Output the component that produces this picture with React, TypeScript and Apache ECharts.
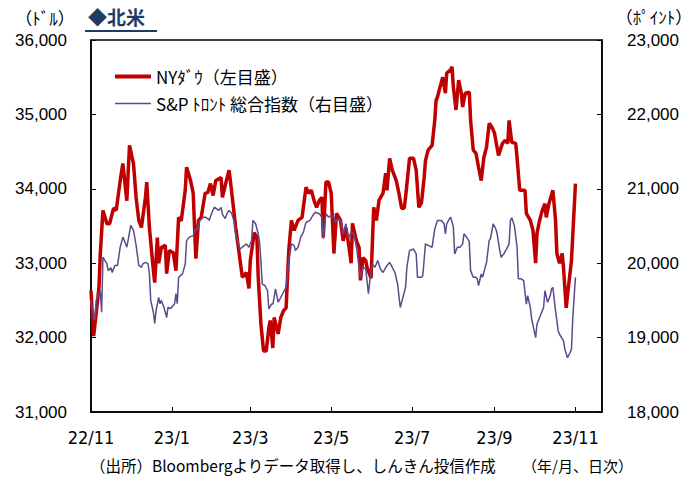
import React, { useEffect, useRef } from "react";
import * as echarts from "echarts";

const dowDates = [
  "2022-11-01","2022-11-03","2022-11-07","2022-11-08","2022-11-10","2022-11-13","2022-11-15","2022-11-18","2022-11-20","2022-11-23",
  "2022-11-25","2022-11-28","2022-11-30","2022-12-03","2022-12-05","2022-12-07","2022-12-09","2022-12-12","2022-12-13","2022-12-15",
  "2022-12-18","2022-12-19","2022-12-21","2022-12-22","2022-12-24","2022-12-27","2022-12-28","2022-12-30","2023-01-02","2023-01-04",
  "2023-01-06","2023-01-08","2023-01-11","2023-01-12","2023-01-15","2023-01-17","2023-01-19","2023-01-21","2023-01-23","2023-01-26",
  "2023-01-28","2023-01-30","2023-02-01","2023-02-03","2023-02-07","2023-02-08","2023-02-11","2023-02-13","2023-02-14","2023-02-16",
  "2023-02-18","2023-02-21","2023-02-23","2023-02-26","2023-02-28","2023-03-01","2023-03-04","2023-03-06","2023-03-07","2023-03-09",
  "2023-03-11","2023-03-13","2023-03-15","2023-03-16","2023-03-18","2023-03-19","2023-03-22","2023-03-24","2023-03-26","2023-03-28",
  "2023-03-30","2023-04-01","2023-04-03","2023-04-06","2023-04-09","2023-04-12","2023-04-14","2023-04-16","2023-04-18","2023-04-20",
  "2023-04-22","2023-04-24","2023-04-25","2023-04-27","2023-04-29","2023-05-01","2023-05-03","2023-05-05","2023-05-08","2023-05-10",
  "2023-05-12","2023-05-14","2023-05-16","2023-05-17","2023-05-20","2023-05-22","2023-05-23","2023-05-25","2023-05-27","2023-05-28",
  "2023-05-31","2023-06-02","2023-06-03","2023-06-04","2023-06-06","2023-06-09","2023-06-11","2023-06-12","2023-06-14","2023-06-16",
  "2023-06-19","2023-06-21","2023-06-23","2023-06-25","2023-06-26","2023-06-29","2023-07-02","2023-07-04","2023-07-06","2023-07-08",
  "2023-07-10","2023-07-11","2023-07-13","2023-07-16","2023-07-18","2023-07-19","2023-07-20","2023-07-22","2023-07-24","2023-07-26",
  "2023-07-27","2023-07-30","2023-07-31","2023-08-01","2023-08-03","2023-08-05","2023-08-07","2023-08-08","2023-08-10","2023-08-13",
  "2023-08-14","2023-08-16","2023-08-18","2023-08-20","2023-08-22","2023-08-24","2023-08-26","2023-08-28","2023-08-30","2023-09-01",
  "2023-09-02","2023-09-04","2023-09-07","2023-09-09","2023-09-11","2023-09-12","2023-09-14","2023-09-17","2023-09-18","2023-09-20",
  "2023-09-24","2023-09-25","2023-09-28","2023-09-30","2023-10-02","2023-10-03","2023-10-05","2023-10-07","2023-10-09","2023-10-10",
  "2023-10-12","2023-10-15","2023-10-17","2023-10-18","2023-10-20","2023-10-22","2023-10-23","2023-10-25","2023-10-27","2023-10-29",
  "2023-11-01"
];
const dowValues = [
  32630,32020,32670,33130,33710,33530,33530,33740,33710,34110,
  34340,33840,34585,34340,33880,33575,33480,33880,34090,33480,
  32900,32740,33345,33000,33210,33240,32860,33170,33140,32900,
  33615,33570,33980,34290,34110,33940,33060,33575,33615,33940,
  33950,34070,33910,34110,34150,33885,34110,34250,34110,33800,
  33480,33080,32810,32875,32660,33035,33410,33345,32810,32190,
  31820,31820,32130,32230,31860,32270,32050,32270,32360,32400,
  33170,33575,33440,33575,33615,34020,33940,33980,33845,33750,
  33845,33885,33345,34090,34090,33940,33130,33670,33575,33300,
  33480,33265,33000,33535,33300,33210,32770,33075,33035,32940,
  32800,33750,33670,33575,33845,33940,34210,33980,34410,34250,
  34110,33940,33740,33740,33885,34410,34410,34250,33750,33815,
  34150,34380,34520,34585,34920,35190,35230,35370,35500,35285,
  35555,35600,35640,35370,35060,35460,35285,35100,35285,35300,
  34920,34520,34480,34290,34110,34420,34560,34880,34830,34750,
  34650,34450,34610,34650,34610,34920,34625,34610,34420,33980,
  33980,33670,33575,33440,33000,33400,33575,33710,33800,33615,
  33800,33980,33575,33130,33000,33130,32940,32400,32725,33035,
  34070
];

const tsxDates = [
  "2022-11-01","2022-11-03","2022-11-04","2022-11-05","2022-11-07","2022-11-08","2022-11-09","2022-11-10","2022-11-13","2022-11-14",
  "2022-11-16","2022-11-17","2022-11-19","2022-11-21","2022-11-23","2022-11-25","2022-11-27","2022-11-28","2022-12-01","2022-12-03",
  "2022-12-05","2022-12-07","2022-12-09","2022-12-10","2022-12-12","2022-12-14","2022-12-15","2022-12-16","2022-12-18","2022-12-19",
  "2022-12-20","2022-12-22","2022-12-23","2022-12-24","2022-12-26","2022-12-28","2022-12-29","2022-12-31","2023-01-03","2023-01-04",
  "2023-01-05","2023-01-06","2023-01-09","2023-01-11","2023-01-12","2023-01-14","2023-01-17","2023-01-19","2023-01-20","2023-01-22",
  "2023-01-24","2023-01-26","2023-01-28","2023-01-29","2023-01-31","2023-02-02","2023-02-05","2023-02-07","2023-02-08","2023-02-10",
  "2023-02-12","2023-02-13","2023-02-15","2023-02-17","2023-02-18","2023-02-21","2023-02-23","2023-02-26","2023-02-28","2023-03-02",
  "2023-03-03","2023-03-05","2023-03-07","2023-03-08","2023-03-09","2023-03-10","2023-03-12","2023-03-14","2023-03-15","2023-03-17",
  "2023-03-18","2023-03-19","2023-03-20","2023-03-22","2023-03-24","2023-03-26","2023-03-28","2023-03-30","2023-04-01","2023-04-03",
  "2023-04-04","2023-04-06","2023-04-08","2023-04-10","2023-04-12","2023-04-15","2023-04-17","2023-04-19","2023-04-22","2023-04-24",
  "2023-04-25","2023-04-27","2023-04-29","2023-05-01","2023-05-03","2023-05-04","2023-05-06","2023-05-08","2023-05-10","2023-05-12",
  "2023-05-14","2023-05-16","2023-05-18","2023-05-20","2023-05-22","2023-05-23","2023-05-25","2023-05-27","2023-05-29","2023-05-31",
  "2023-06-01","2023-06-03","2023-06-05","2023-06-07","2023-06-09","2023-06-12","2023-06-14","2023-06-16","2023-06-18","2023-06-20",
  "2023-06-22","2023-06-24","2023-06-26","2023-06-27","2023-06-29","2023-07-02","2023-07-04","2023-07-05","2023-07-08","2023-07-09",
  "2023-07-11","2023-07-13","2023-07-16","2023-07-18","2023-07-20","2023-07-23","2023-07-25","2023-07-26","2023-07-27","2023-07-29",
  "2023-07-30","2023-08-01","2023-08-02","2023-08-04","2023-08-06","2023-08-08","2023-08-09","2023-08-11","2023-08-13","2023-08-14",
  "2023-08-16","2023-08-18","2023-08-19","2023-08-20","2023-08-22","2023-08-23","2023-08-25","2023-08-26","2023-08-28","2023-08-29",
  "2023-08-31","2023-09-02","2023-09-03","2023-09-05","2023-09-06","2023-09-08","2023-09-10","2023-09-12","2023-09-13","2023-09-14",
  "2023-09-16","2023-09-18","2023-09-19","2023-09-21","2023-09-23","2023-09-25","2023-09-26","2023-09-28","2023-09-29","2023-10-02",
  "2023-10-03","2023-10-05","2023-10-07","2023-10-08","2023-10-09","2023-10-11","2023-10-13","2023-10-14","2023-10-15","2023-10-17",
  "2023-10-19","2023-10-20","2023-10-23","2023-10-24","2023-10-26","2023-10-28","2023-10-29","2023-10-30","2023-11-01"
];
const tsxValues = [
  19500,19270,19230,19500,19590,19630,19340,20080,19990,19900,
  19940,19875,19970,19970,20215,20350,20265,20215,20510,20440,
  20240,19970,19945,19990,20010,19990,19860,19500,19340,19190,
  19360,19540,19455,19500,19405,19270,19405,19390,19455,19590,
  19455,19810,19860,19990,20300,20350,20370,20465,20440,20575,
  20610,20620,20600,20575,20675,20755,20710,20750,20660,20600,
  20685,20710,20670,20550,20400,20190,20215,20260,20215,20305,
  20575,20530,20395,20280,20035,19720,19700,19630,19385,19450,
  19450,19540,19655,19475,19540,19610,19675,20035,20260,20240,
  20170,20215,20350,20415,20550,20575,20640,20685,20665,20620,
  20330,20665,20620,20640,20620,20550,20595,20575,20395,20530,
  20330,20415,20395,20215,19945,19810,19945,19925,19590,19900,
  19990,19945,20035,19925,19875,19970,20010,19945,19875,19720,
  19405,19540,19675,19945,20170,20190,20125,19810,19810,19835,
  20260,20240,20215,20460,20575,20575,20530,20395,20530,20595,
  20620,20485,20125,20215,20215,20260,20395,20350,20290,19900,
  19810,19810,19790,19700,19855,19810,19945,20010,20305,20330,
  20530,20460,20395,20170,20080,20125,20190,20260,20575,20610,
  20505,20215,19790,19790,19765,19450,19565,19405,19250,19000,
  19180,19270,19360,19405,19630,19475,19565,19655,19675,19360,
  19090,19045,18955,18845,18730,18800,18845,19270,19810
];

const xTickDates = ["2022-11-01", "2023-01-01", "2023-03-01", "2023-05-01", "2023-07-01", "2023-09-01", "2023-11-01"];
const xMinDate = "2022-11-01";
const xMaxDate = "2023-11-21";
const leftAxisRange = [31000, 36000];
const rightAxisRange = [18000, 23000];
const axisStep = 1000;

const seriesNames = ["NYﾀﾞｳ（左目盛）", "S&P ﾄﾛﾝﾄ 総合指数（右目盛）"];
const titleText = "◆北米";
const leftUnit = "（ﾄﾞﾙ）";
const rightUnit = "（ﾎﾟｲﾝﾄ）";
const sourceText = "（出所）Bloombergよりデータ取得し、しんきん投信作成";
const noteText = "（年/月、日次）";

const toTs = (s: string) => {
  const [y, m, d] = s.split("-").map(Number);
  return new Date(y, m - 1, d).getTime();
};

const JP = "'Noto Sans CJK JP', 'Noto Sans', sans-serif";
const NUM = "'Liberation Sans', Arial, sans-serif";
const COND = "'DejaVu Sans Condensed', 'Noto Sans CJK JP', sans-serif";
const RED = "#C00000";
const PURPLE = "#5E4A8A";
const NAVY = "#1F3A66";

export default function App() {
  const ref = useRef<HTMLDivElement>(null);
  useEffect(() => {
    if (!ref.current) return;
    const chart = echarts.init(ref.current, null, { renderer: "svg" });
    const fmtNum = (v: number) => v.toLocaleString("en-US");
    const tickTs = xTickDates.map(toTs);
    const option: any = {
      animation: false,
      backgroundColor: "#fff",
      grid: {
        left: 91, right: 97, top: 40, bottom: 67,
        show: true, borderColor: "#000", borderWidth: 1.5, backgroundColor: "transparent",
      },
      legend: [
        {
          data: [seriesNames[0]], left: 110, top: 63, icon: "rect",
          itemWidth: 36, itemHeight: 4, itemGap: 4,
          textStyle: { fontFamily: JP, fontSize: 17, color: "#000" },
        },
        {
          data: [seriesNames[1]], left: 110, top: 90, icon: "rect",
          itemWidth: 36, itemHeight: 1.5, itemGap: 4,
          textStyle: { fontFamily: JP, fontSize: 17, color: "#000" },
        },
      ],
      xAxis: {
        type: "value",
        min: toTs(xMinDate),
        max: toTs(xMaxDate),
        axisLine: { show: true, lineStyle: { color: "#000", width: 1.5 } },
        axisTick: { show: true, inside: true, length: 5, lineStyle: { color: "#000" }, customValues: tickTs },
        axisLabel: {
          customValues: tickTs,
          formatter: (v: number) => {
            const d = new Date(v);
            return `${String(d.getFullYear()).slice(2)}/${d.getMonth() + 1}`;
          },
          fontFamily: COND, fontSize: 18, color: "#000", margin: 16,
        },
        splitLine: { show: false },
      },
      yAxis: [
        {
          type: "value", min: leftAxisRange[0], max: leftAxisRange[1], interval: axisStep,
          axisLine: { show: true, lineStyle: { color: "#000", width: 1.5 } },
          axisTick: { show: true, inside: true, length: 5, lineStyle: { color: "#000" } },
          axisLabel: { formatter: fmtNum, fontFamily: NUM, fontSize: 17, color: "#000", margin: 24 },
          splitLine: { show: false },
        },
        {
          type: "value", min: rightAxisRange[0], max: rightAxisRange[1], interval: axisStep, position: "right",
          axisLine: { show: true, lineStyle: { color: "#000", width: 1.5 } },
          axisTick: { show: true, inside: true, length: 5, lineStyle: { color: "#000" } },
          axisLabel: { formatter: fmtNum, fontFamily: NUM, fontSize: 17, color: "#000", margin: 25 },
          splitLine: { show: false },
        },
      ],
      series: [
        {
          name: seriesNames[0], type: "line", yAxisIndex: 0, showSymbol: false,
          data: dowDates.map((d, i) => [toTs(d), dowValues[i]]),
          lineStyle: { color: RED, width: 3.5 }, itemStyle: { color: RED },
        },
        {
          name: seriesNames[1], type: "line", yAxisIndex: 1, showSymbol: false,
          data: tsxDates.map((d, i) => [toTs(d), tsxValues[i]]),
          lineStyle: { color: PURPLE, width: 1.5 }, itemStyle: { color: PURPLE },
        },
      ],
      graphic: [
        {
          type: "text", left: 88, top: 7,
          style: { text: titleText, font: `bold 19px ${JP}`, fill: NAVY },
        },
        {
          type: "line", shape: { x1: 85, y1: 31, x2: 157, y2: 31 },
          style: { stroke: NAVY, lineWidth: 2 },
        },
        {
          type: "text", x: 45, y: 17,
          style: { text: leftUnit, font: `17px ${JP}`, fill: "#000", align: "center", verticalAlign: "middle" },
        },
        {
          type: "text", x: 654, y: 16,
          style: { text: rightUnit, font: `17px ${JP}`, fill: "#000", align: "center", verticalAlign: "middle" },
        },
        {
          type: "text", x: 90, y: 465,
          style: { text: sourceText, font: `15.5px ${JP}`, fill: "#000", verticalAlign: "middle" },
        },
        {
          type: "text", x: 522, y: 465,
          style: { text: noteText, font: `15px ${JP}`, fill: "#000", verticalAlign: "middle" },
        },
      ],
    };
    chart.setOption(option);
    return () => chart.dispose();
  }, []);
  return (
    <div
      ref={ref}
      style={{ position: "fixed", left: 0, top: 0, width: 699, height: 479, background: "#fff" }}
    />
  );
}
